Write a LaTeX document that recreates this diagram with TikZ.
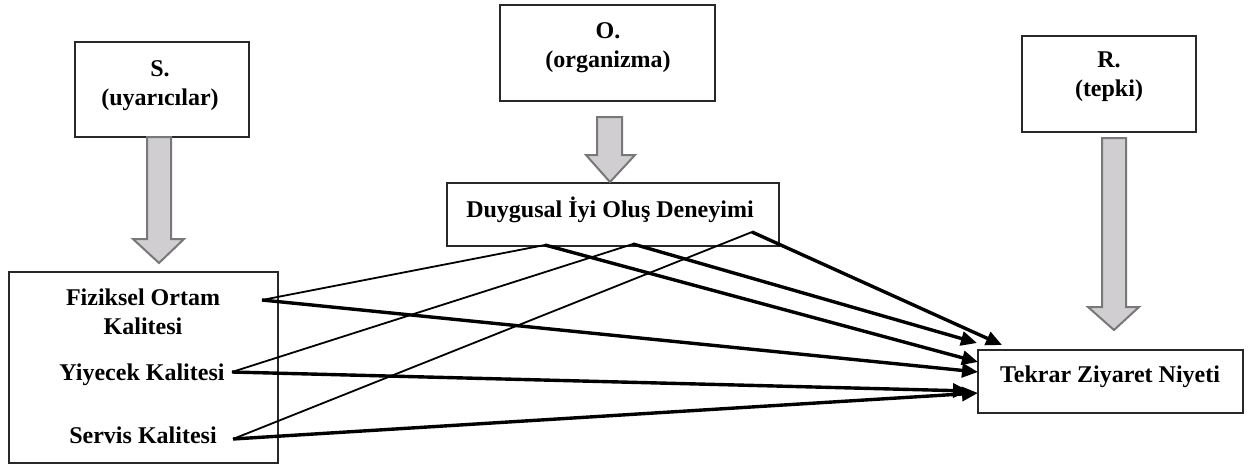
\documentclass[tikz,border=0pt]{standalone}
\usepackage{fontspec}
\setmainfont{Liberation Serif}
\usetikzlibrary{arrows.meta}
\definecolor{arrowfill}{RGB}{208,206,209}
\definecolor{arrowedge}{RGB}{120,120,120}
\definecolor{boxedge}{RGB}{40,40,40}
\begin{document}
\begin{tikzpicture}[x=0.5pt,y=-0.5pt,
  box/.style={draw=boxedge, line width=0.6pt, inner sep=0pt},
  lbl/.style={font=\bfseries\fontsize{12pt}{14.5pt}\selectfont, align=center, inner sep=0pt},
  blockarrow/.style={fill=arrowfill, draw=arrowedge, line width=1pt, line join=miter},
  thinlink/.style={draw=black, line width=0.9pt},
  thicklink/.style={draw=black, line width=1.7pt, -{Triangle[length=8pt,width=7pt]}}
]
\useasboundingbox (0,0) rectangle (1254,466);

% boxes
\node[box, minimum width=87pt, minimum height=47.5pt] (S) at (162,89.5) {};
\node[box, minimum width=107.5pt, minimum height=48pt] (O) at (607.5,53) {};
\node[box, minimum width=87pt, minimum height=48pt] (R) at (1109,84) {};
\node[box, minimum width=134.5pt, minimum height=95.5pt] (Q) at (143.5,367.5) {};
\node[box, minimum width=166pt, minimum height=31.5pt] (D) at (613,214.5) {};
\node[box, minimum width=132.5pt, minimum height=31.5pt] (T) at (1110.5,381.5) {};

% labels
\node[lbl] (Stxt) at (160,86) {S.\\(uyarıcılar)};
\node[lbl] (Otxt) at (608,48) {O.\\(organizma)};
\node[lbl] (Rtxt) at (1109,77) {R.\\(tepki)};
\node[lbl] (fiz) at (143,312) {Fiziksel Ortam\\Kalitesi};
\node[lbl] (yiy) at (142,375) {Yiyecek Kalitesi};
\node[lbl] (ser) at (143,435) {Servis Kalitesi};
\node[lbl] (Dtxt) at (610,210) {Duygusal İyi Oluş Deneyimi};
\node[lbl] (Ttxt) at (1110,377) {Tekrar Ziyaret Niyeti};

% block arrows
\draw[blockarrow] (147,137) -- (147,239) -- (133,239) -- (159,263) -- (184,239) -- (171,239) -- (171,137) -- cycle;
\draw[blockarrow] (597,117) -- (597,155) -- (586,155) -- (610,182) -- (635,155) -- (622,155) -- (622,117) -- cycle;
\draw[blockarrow] (1102,138) -- (1102,307) -- (1088,307) -- (1114,330) -- (1139,307) -- (1126,307) -- (1126,138) -- cycle;

% connector end points
\coordinate (f0) at (262,300);
\coordinate (y0) at (232,372);
\coordinate (s0) at (233,439);
\coordinate (d1) at (545,245);
\coordinate (d2) at (633,244);
\coordinate (d3) at (752,232);
\coordinate (tf) at (978,372);
\coordinate (ty) at (969,391);
\coordinate (ts) at (978,393);
\coordinate (t1) at (978,362);
\coordinate (t2) at (977,343);
\coordinate (t3) at (1002,345);

% thin links
\draw[thinlink] (f0) -- (d1);
\draw[thinlink] (y0) -- (d2);
\draw[thinlink] (s0) -- (d3);

% thick arrows
\draw[thicklink] (f0) -- (tf);
\draw[thicklink] (y0) -- (ty);
\draw[thicklink] (s0) -- (ts);
\draw[thicklink] (d1) -- (t1);
\draw[thicklink] (d2) -- (t2);
\draw[thicklink] (d3) -- (t3);
\end{tikzpicture}
\end{document}
